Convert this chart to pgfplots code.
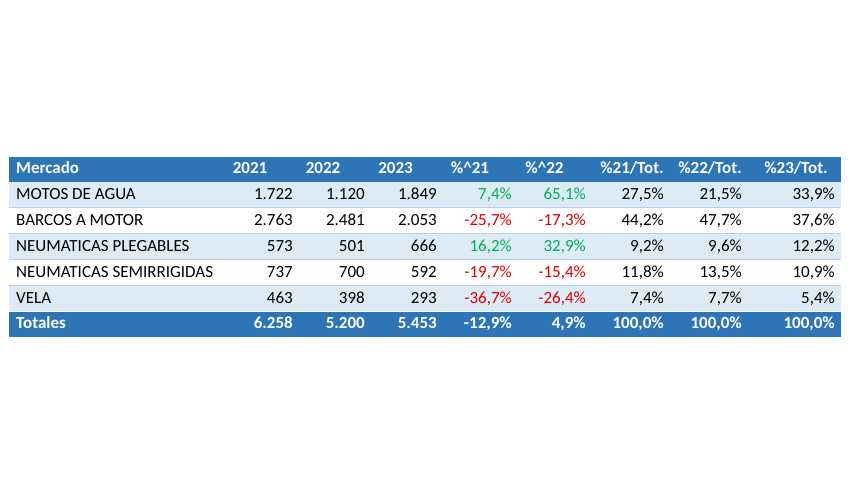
\documentclass[border=0pt]{standalone}
\usepackage{pgfplots}
\pgfplotsset{compat=1.18}
\usepackage{fontspec}
\setmainfont{Carlito}
\definecolor{hdr}{HTML}{2E75B6}
\definecolor{lite}{HTML}{DDEBF7}
\definecolor{sepc}{HTML}{B7CFE8}
\definecolor{grn}{HTML}{00B050}
\definecolor{rd}{HTML}{E00000}
\newcommand{\tf}{\fontsize{17bp}{20bp}\selectfont}
\pgfplotsset{
  txt/.style={only marks, mark=none, point meta=explicit symbolic, nodes near coords,
    nodes near coords style={inner sep=0pt, font=\tf, anchor=#1}},
  txt/.default={base east}
}
\begin{document}
\begin{tikzpicture}
\begin{axis}[
  width=850bp, height=500bp, scale only axis,
  xmin=0, xmax=850, ymin=0, ymax=500, y dir=reverse,
  axis lines=none, clip=false,
  table/col sep=semicolon, table/row sep=\\,
]
% background
\addplot[fill=white, draw=none] coordinates {(0,0)(850,0)(850,500)(0,500)} -- cycle;
% header and totals
\addplot[fill=hdr, draw=none] coordinates {(9.3,157)(841,157)(841,182)(9.3,182)} -- cycle;
\addplot[fill=hdr, draw=none] coordinates {(9.3,311.5)(841,311.5)(841,337)(9.3,337)} -- cycle;
% light rows
\addplot[fill=lite, draw=none] coordinates {(9.3,182)(841,182)(841,207.5)(9.3,207.5)} -- cycle;
\addplot[fill=lite, draw=none] coordinates {(9.3,233.5)(841,233.5)(841,259.3)(9.3,259.3)} -- cycle;
\addplot[fill=lite, draw=none] coordinates {(9.3,285.3)(841,285.3)(841,311)(9.3,311)} -- cycle;
% separators
\addplot[sepc, line width=0.9bp] coordinates {(9.3,207.5)(841,207.5)};
\addplot[sepc, line width=0.9bp] coordinates {(9.3,233.5)(841,233.5)};
\addplot[sepc, line width=0.9bp] coordinates {(9.3,259.3)(841,259.3)};
\addplot[sepc, line width=0.9bp] coordinates {(9.3,285.3)(841,285.3)};
% header text
\addplot[txt=base west, nodes near coords style={text=white, font=\tf\bfseries}] table[x=x,y=y,meta=t] {
x;y;t\\ 16;174;Mercado\\ };
\addplot[txt=base, nodes near coords style={text=white, font=\tf\bfseries}] table[x=x,y=y,meta=t] {
x;y;t\\
250;174;2021\\ 323;174;2022\\ 395.5;174;2023\\
470;174;\%\textasciicircum21\\ 544.5;174;\%\textasciicircum22\\
632;174;\%21/Tot.\\ 710;174;\%22/Tot.\\ 796;174;\%23/Tot.\\ };
% row labels
\addplot[txt=base west] table[x=x,y=y,meta=t] {
x;y;t\\
16;200;MOTOS DE AGUA\\
16;226;BARCOS A MOTOR\\
16;252;NEUMATICAS PLEGABLES\\
16;278;NEUMATICAS SEMIRRIGIDAS\\
16;303.5;VELA\\ };
% black numbers
\addplot[txt] table[x=x,y=y,meta=t] {
x;y;t\\
293;200;1.722\\ 365;200;1.120\\ 437;200;1.849\\ 664;200;27,5\%\\ 742;200;21,5\%\\ 835;200;33,9\%\\
293;226;2.763\\ 365;226;2.481\\ 437;226;2.053\\ 664;226;44,2\%\\ 742;226;47,7\%\\ 835;226;37,6\%\\
293;252;573\\ 365;252;501\\ 437;252;666\\ 664;252;9,2\%\\ 742;252;9,6\%\\ 835;252;12,2\%\\
293;278;737\\ 365;278;700\\ 437;278;592\\ 664;278;11,8\%\\ 742;278;13,5\%\\ 835;278;10,9\%\\
293;303.5;463\\ 365;303.5;398\\ 437;303.5;293\\ 664;303.5;7,4\%\\ 742;303.5;7,7\%\\ 835;303.5;5,4\%\\ };
% green
\addplot[txt, nodes near coords style={text=grn}] table[x=x,y=y,meta=t] {
x;y;t\\
512;200;7,4\%\\ 586;200;65,1\%\\
512;252;16,2\%\\ 586;252;32,9\%\\ };
% red
\addplot[txt, nodes near coords style={text=rd}] table[x=x,y=y,meta=t] {
x;y;t\\
512;226;-25,7\%\\ 586;226;-17,3\%\\
512;278;-19,7\%\\ 586;278;-15,4\%\\
512;303.5;-36,7\%\\ 586;303.5;-26,4\%\\ };
% totals
\addplot[txt=base west, nodes near coords style={text=white, font=\tf\bfseries}] table[x=x,y=y,meta=t] {
x;y;t\\ 16;329;Totales\\ };
\addplot[txt, nodes near coords style={text=white, font=\tf\bfseries}] table[x=x,y=y,meta=t] {
x;y;t\\
293;329;6.258\\ 365;329;5.200\\ 437;329;5.453\\ 512;329;-12,9\%\\ 586;329;4,9\%\\
664;329;100,0\%\\ 742;329;100,0\%\\ 835;329;100,0\%\\ };
\end{axis}
\end{tikzpicture}
\end{document}
